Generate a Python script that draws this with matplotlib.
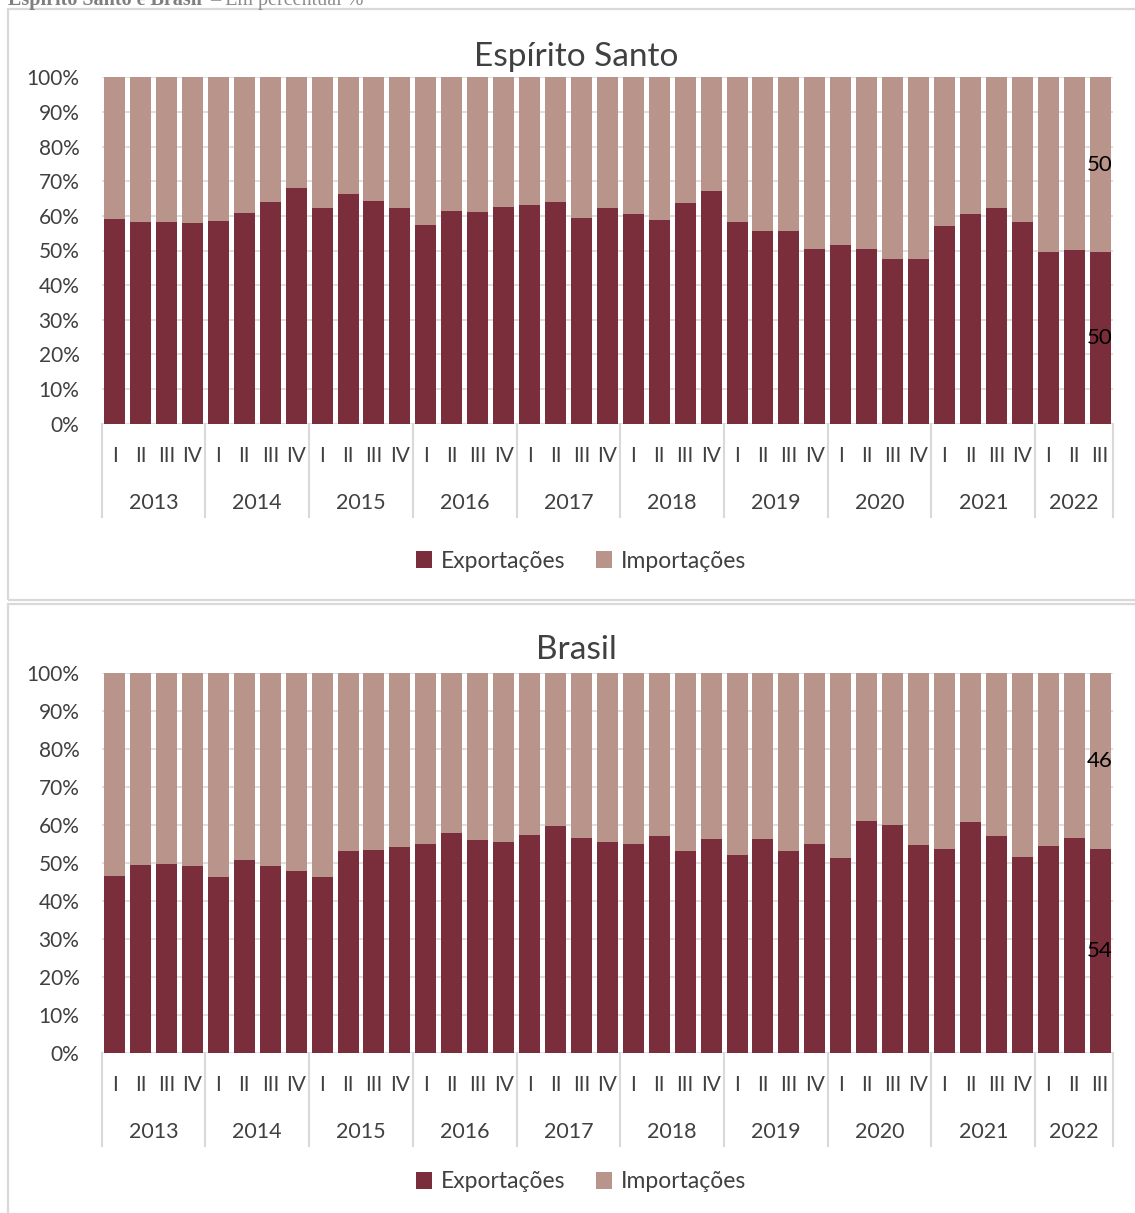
import matplotlib
matplotlib.use("Agg")
import matplotlib.pyplot as plt
import matplotlib.transforms as mtransforms
from matplotlib.patches import Rectangle, Patch

W, H = 1135, 1213

years = ["2013", "2014", "2015", "2016", "2017", "2018", "2019", "2020", "2021", "2022"]
quarters = ["I", "II", "III", "IV"] * 9 + ["I", "II", "III"]

es_exp = [59.0, 58.3, 58.3, 57.8, 58.5, 60.7, 64.0, 68.1, 62.4, 66.3, 64.4, 62.4,
          57.3, 61.5, 61.1, 62.6, 63.1, 64.0, 59.5, 62.4, 60.4, 58.9, 63.6, 67.3,
          58.1, 55.5, 55.7, 50.4, 51.7, 50.3, 47.6, 47.5, 57.2, 60.4, 62.4, 58.3,
          49.6, 50.1, 49.6]
es_imp = [41.0, 41.7, 41.7, 42.2, 41.5, 39.3, 36.0, 31.9, 37.6, 33.7, 35.6, 37.6,
          42.7, 38.5, 38.9, 37.4, 36.9, 36.0, 40.5, 37.6, 39.6, 41.1, 36.4, 32.7,
          41.9, 44.5, 44.3, 49.6, 48.3, 49.7, 52.4, 52.5, 42.8, 39.6, 37.6, 41.7,
          50.4, 49.9, 50.4]

br_exp = [46.6, 49.6, 49.7, 49.1, 46.3, 50.8, 49.2, 47.9, 46.2, 53.1, 53.4, 54.2,
          55.0, 58.0, 56.1, 55.5, 57.3, 59.8, 56.6, 55.5, 55.0, 57.1, 53.2, 56.4,
          52.1, 56.2, 53.1, 55.0, 51.3, 61.1, 59.9, 54.7, 53.7, 60.7, 57.0, 51.7,
          54.5, 56.6, 53.8]
br_imp = [53.4, 50.4, 50.3, 50.9, 53.7, 49.2, 50.8, 52.1, 53.8, 46.9, 46.6, 45.8,
          45.0, 42.0, 43.9, 44.5, 42.7, 40.2, 43.4, 44.5, 45.0, 42.9, 46.8, 43.6,
          47.9, 43.8, 46.9, 45.0, 48.7, 38.9, 40.1, 45.3, 46.3, 39.3, 43.0, 48.3,
          45.5, 43.4, 46.2]

series_names = ["Exportações", "Importações"]
titles = ["Espírito Santo", "Brasil"]
header_bold = "Espírito Santo e Brasil"
header_rest = "– Em percentual %"

C_EXP = "#7A2E3C"
C_IMP = "#B8948A"
GRID = "#D9D9D9"
TXT = "#404040"
FONT = "Lato"

plt.rcParams["font.family"] = [FONT, "DejaVu Sans"]

fig = plt.figure(figsize=(W / 100, H / 100), dpi=100)

def fx(px):
    return px / W

def fy(py):
    return 1 - py / H

# panel frames
for (top, bottom) in [(9, 600), (604, 1225)]:
    fig.add_artist(Rectangle((fx(8), fy(bottom)), fx(1150 - 8), (bottom - top) / H,
                             transform=fig.transFigure, fill=False, ec=GRID, lw=1.6,
                             clip_on=False, zorder=0))

# header (partly cut off at the top, as in the source)
t1 = fig.text(fx(8), fy(4.5), header_bold, family="Liberation Serif",
              fontweight="bold", fontsize=14.5, color="#7F7F7F", va="baseline",
              ha="left")
fig.canvas.draw()
bb = t1.get_window_extent(renderer=fig.canvas.get_renderer())
fig.text(fx(bb.x1 + 8), fy(4.5), header_rest, family="Liberation Serif",
         fontsize=14.5, color="#8C8C8C", va="baseline", ha="left")

panels = [
    dict(top=77.3, bottom=423.7, exp=es_exp, imp=es_imp, title=titles[0],
         title_base=66.5, legend_y=561),
    dict(top=673.3, bottom=1052.7, exp=br_exp, imp=br_imp, title=titles[1],
         title_base=659, legend_y=1182),
]

left_px, right_px = 101.7, 1113
n = len(quarters)
x = list(range(n))

for p in panels:
    ax = fig.add_axes([fx(left_px), fy(p["bottom"]), fx(right_px - left_px),
                       (p["bottom"] - p["top"]) / H])
    ax.set_xlim(-0.5, n - 0.5)
    ax.set_ylim(0, 100)
    ax.bar(x, p["exp"], width=0.81, color=C_EXP, zorder=3, linewidth=0)
    ax.bar(x, p["imp"], width=0.81, bottom=p["exp"], color=C_IMP, zorder=3,
           linewidth=0)
    for s in ax.spines.values():
        s.set_visible(False)
    ax.set_yticks(range(0, 101, 10))
    ax.set_yticklabels([f"{v}%" for v in range(0, 101, 10)])
    ax.tick_params(axis="y", length=0, pad=16, labelsize=15, labelcolor=TXT)
    ax.set_xticks([])
    ax.yaxis.grid(True, color=GRID, lw=1.2, zorder=0)
    ax.set_axisbelow(True)

    # data labels on last bar
    last = n - 1
    ax.text(last, p["exp"][last] / 2, f"{round(p['exp'][last])}", ha="center",
            va="center", fontsize=16, color="black", zorder=5, clip_on=False)
    ax.text(last, p["exp"][last] + p["imp"][last] / 2, f"{round(p['imp'][last])}",
            ha="center", va="center", fontsize=16, color="black", zorder=5,
            clip_on=False)

    xt = ax.get_xaxis_transform()
    q_tr = mtransforms.offset_copy(xt, fig=fig, x=0, y=-32.5, units="dots")
    y_tr = mtransforms.offset_copy(xt, fig=fig, x=0, y=-79, units="dots")
    for i, q in enumerate(quarters):
        ax.text(i, 0, q, transform=q_tr, ha="center", va="center", fontsize=15,
                color=TXT, clip_on=False)
    for k, yr in enumerate(years):
        start = 4 * k - 0.5
        end = min(4 * k + 3.5, n - 0.5)
        ax.text((start + end) / 2, 0, yr, transform=y_tr, ha="center", va="center",
                fontsize=15.5, color=TXT, clip_on=False)
    # year separators
    seps = [4 * k - 0.5 for k in range(10)] + [n - 0.5]
    sep_len = 93 / (p["bottom"] - p["top"])
    for s in seps:
        ax.plot([s, s], [0, -sep_len], transform=xt, color=GRID, lw=1.5,
                clip_on=False, zorder=1)

    fig.text(fx(576), fy(p["title_base"]), p["title"], ha="center", va="baseline",
             fontsize=24, color=TXT)

    handles = [Patch(facecolor=C_EXP, edgecolor="none"),
               Patch(facecolor=C_IMP, edgecolor="none")]
    fig.legend(handles, series_names, loc="center",
               bbox_to_anchor=(fx(581), fy(p["legend_y"])), ncol=2, frameon=False,
               fontsize=16.5, handlelength=0.7, handleheight=0.7, handletextpad=0.4,
               columnspacing=1.3, labelcolor=TXT)

fig.savefig("out.png", dpi=100)
